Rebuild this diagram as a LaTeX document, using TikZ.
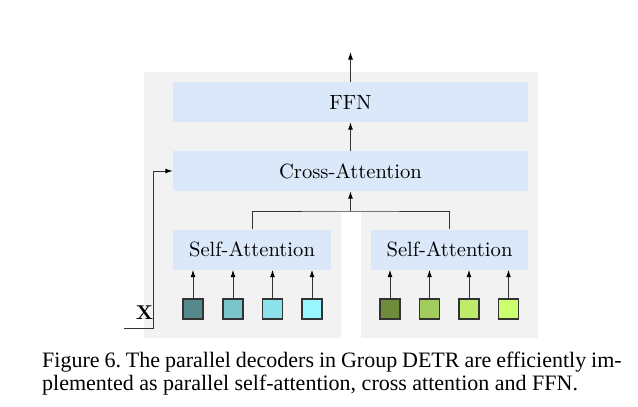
\documentclass[tikz,border=0pt]{standalone}
\usepackage{fontspec}
\newfontfamily\capfont{Liberation Serif}
\newfontfamily\dfont[Extension=.otf,BoldFont=lmroman10-bold]{lmroman10-regular}
\usetikzlibrary{arrows.meta}
\definecolor{bgg}{HTML}{F2F2F2}
\definecolor{boxb}{HTML}{DAE8FA}
\definecolor{ca}{HTML}{558A8C}
\definecolor{cb}{HTML}{7AC4CC}
\definecolor{cc}{HTML}{8CE3EC}
\definecolor{cd}{HTML}{99F5FF}
\definecolor{ga}{HTML}{6E8C3C}
\definecolor{gb}{HTML}{A3CC5E}
\definecolor{gc}{HTML}{BEEC6A}
\definecolor{gd}{HTML}{CCFF70}
\frenchspacing
\begin{document}
\begin{tikzpicture}[x=1pt,y=-1pt,
  blk/.style={fill=boxb, inner sep=0pt, minimum height=40pt, font=\dfont\fontsize{20.6}{24}\selectfont},
  tok/.style={draw=black!80, line width=1.1pt, minimum size=20pt, inner sep=0pt},
  ln/.style={draw=black!80, line width=1pt},
  arr/.style={ln, -{Latex[length=7.5pt,width=5pt,color=black]}}]
\useasboundingbox (0,0) rectangle (638,407);
\fill[bgg] (144,72) -- (538,72) -- (538,338) -- (361,338) -- (361,211) -- (341,211) -- (341,338) -- (144,338) -- cycle;
\node[blk, minimum width=355pt] (ffn) at (350.5,102) {FFN};
\node[blk, minimum width=355pt] (cra) at (350.5,171) {Cross-Attention};
\node[blk, minimum width=158pt] (sa1) at (252,249.5) {Self-Attention};
\node[blk, minimum width=157pt] (sa2) at (449.5,249.5) {Self-Attention};
\node[tok, fill=ca] (s1) at (193,309) {};
\node[tok, fill=cb] (s2) at (233,309) {};
\node[tok, fill=cc] (s3) at (272.5,309) {};
\node[tok, fill=cd] (s4) at (312,309) {};
\node[tok, fill=ga] (t1) at (390,309) {};
\node[tok, fill=gb] (t2) at (429.5,309) {};
\node[tok, fill=gc] (t3) at (469,309) {};
\node[tok, fill=gd] (t4) at (508.5,309) {};
\foreach \n in {s1,s2,s3,s4}{\draw[arr] (\n.north) -- (\n.north |- sa1.south);}
\foreach \n in {t1,t2,t3,t4}{\draw[arr] (\n.north) -- (\n.north |- sa2.south);}
\coordinate (j) at (350.5,211);
\draw[ln] (sa1.north) |- (j) -| (sa2.north);
\draw[arr] (j) -- (cra.south);
\draw[arr] (cra.north) -- (ffn.south);
\coordinate (out) at (350.5,52);
\draw[arr] (ffn.north) -- (out);
\coordinate (xs) at (124,328);
\coordinate (xc) at (153.5,328);
\draw[arr] (xs) -- (xc) |- (cra.west);
\node[inner sep=0pt, font=\dfont\bfseries\fontsize{20}{24}\selectfont] (xl) at (144.5,312.5) {X};
\node[anchor=base west, inner sep=0pt, font=\capfont\fontsize{22}{26}\selectfont] (c1) at (42,367) {\makebox[579.5pt][s]{Figure 6. The parallel decoders in Group DETR are efficiently im-}};
\node[anchor=base west, inner sep=0pt, font=\capfont\fontsize{22}{26}\selectfont] (c2) at (42,390) {plemented as parallel self-attention, cross attention and FFN.};
\end{tikzpicture}
\end{document}
